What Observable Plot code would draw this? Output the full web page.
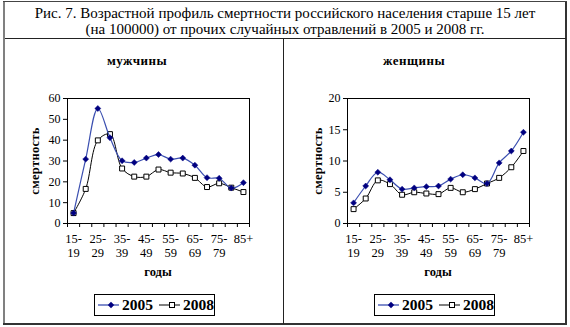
<!DOCTYPE html>
<html><head><meta charset="utf-8">
<script src="https://cdn.jsdelivr.net/npm/d3@7"></script>
<script src="https://cdn.jsdelivr.net/npm/@observablehq/plot@0.6"></script>
<style>
body{margin:0;background:#fff;}
#root{position:relative;width:570px;height:327px;font-family:"Liberation Serif","Times New Roman",serif;color:#000;overflow:hidden;background:#fff}
.abs{position:absolute;white-space:nowrap}
.ttl{left:0;width:570px;text-align:center;font-size:15px;line-height:16px}
.ptitle{font-weight:bold;font-size:13px;transform:translateX(-50%);letter-spacing:0.5px}
.ylab{font-weight:bold;font-size:12.5px;transform:translate(-50%,-50%) rotate(-90deg);letter-spacing:0.3px}
.xlab{font-weight:bold;font-size:12.5px;transform:translateX(-50%)}
.legend{border:1.5px solid #000;height:22px;box-sizing:border-box;display:flex;align-items:center;font-weight:bold;font-size:15.5px;padding-left:3px}
svg text{font-family:"Liberation Serif","Times New Roman",serif}
</style></head><body><div id="root"></div>
<script>
const ages = ["15-19","20-24","25-29","30-34","35-39","40-44","45-49","50-54","55-59","60-64","65-69","70-74","75-79","80-84","85+"];
const years = ["2005","2008"];
const panelTitles = ["мужчины","женщины"];
const yLabel = "смертность";
const xLabel = "годы";
const titleLines = ["Рис. 7. Возрастной профиль смертности российского населения старше 15 лет","(на 100000) от прочих случайных отравлений в 2005 и 2008 гг."];
const men2005 = [5.0,30.9,55.2,41.2,30.1,29.3,31.4,33.1,30.9,31.4,28.0,22.0,21.7,17.0,19.6];
const men2008 = [5.0,16.6,39.9,42.9,26.4,22.5,22.5,25.9,24.4,24.0,21.9,17.5,19.3,17.2,15.1];
const women2005 = [3.3,6.0,8.2,7.0,5.5,5.7,5.9,6.0,7.1,7.8,7.3,6.4,9.7,11.6,14.6];
const women2008 = [2.3,4.0,6.9,6.3,4.6,5.0,4.8,4.7,5.7,5.0,5.5,6.4,7.3,9.0,11.6];
const menTicks = [0,10,20,30,40,50,60];
const womenTicks = [0,5,10,15,20];

const C05 = "#000080", L05 = "#3b4fb0";
const FONT = "'Liberation Serif', 'Times New Roman', serif";
const root = document.getElementById("root");
function add(html, cls, style){const d=document.createElement("div");d.className="abs "+cls;d.style.cssText=style;d.innerHTML=html;root.appendChild(d);return d;}

// frame lines
add("","", "left:3px;top:2px;width:2px;height:322px;background:#808080");
add("","", "left:3px;top:1px;width:564px;height:1px;background:#444");
add("","", "left:565px;top:2px;width:1.5px;height:322px;background:#333");
add("","", "left:3px;top:323px;width:564px;height:1.5px;background:#333");
add("","", "left:5px;top:38px;width:561px;height:1px;background:#222");
add("","", "left:283px;top:38px;width:1px;height:286px;background:#222");

add(titleLines[0],"ttl","top:5px");
add(titleLines[1],"ttl","top:21px");

function panel(v05, v08, ticks){
  const r05 = ages.map((a,i)=>({i, v:v05[i]}));
  const r08 = ages.map((a,i)=>({i, v:v08[i]}));
  const bounds = d3.range(ages.length+1).map(k=>k-0.5);
  const labs = ages.map((a,i)=>({i, t:a.replace("-","-\n")})).filter(d=>d.i%2===0);
  const svg = Plot.plot({
    width:278, height:240, marginLeft:62, marginRight:34, marginTop:58, marginBottom:57,
    style:`font-family:${FONT};font-size:12px;background:transparent;color:#000;overflow:visible`,
    x:{type:"linear", domain:[-0.5, ages.length-0.5]},
    y:{domain:[ticks[0], ticks[ticks.length-1]]},
    marks:[
      Plot.frame({stroke:"#000", strokeWidth:1}),
      Plot.axisY(ticks, {tickSize:4, tickPadding:3, label:null, fontSize:12, stroke:"#000"}),
      Plot.axisX(bounds, {tickSize:4, tickFormat:()=>"", label:null, stroke:"#000"}),
      Plot.text(labs, {x:"i", text:"t", frameAnchor:"bottom", lineAnchor:"top", dy:9, fontSize:12.5, lineHeight:1.15}),
      Plot.line(r08, {x:"i", y:"v", stroke:"#000", strokeWidth:1, curve:"catmull-rom"}),
      Plot.dot(r08, {x:"i", y:"v", symbol:"square", fill:"#fff", stroke:"#000", strokeWidth:1, r:2.8}),
      Plot.line(r05, {x:"i", y:"v", stroke:L05, strokeWidth:1.2, curve:"catmull-rom"}),
      Plot.dot(r05, {x:"i", y:"v", symbol:"diamond2", fill:C05, stroke:C05, strokeWidth:0.5, r:2.7})
    ]
  });
  svg.setAttribute("font-family", FONT);
  return svg;
}

const panels = [
  {left:5, v05:men2005, v08:men2008, ticks:menTicks, tx:137, ylx:35, xlx:158, lgx:94},
  {left:285, v05:women2005, v08:women2008, ticks:womenTicks, tx:414, ylx:318, xlx:438, lgx:374}
];
panels.forEach((p,k)=>{
  const svg = panel(p.v05, p.v08, p.ticks);
  const w = document.createElement("div");
  w.className="abs"; w.style.cssText=`left:${p.left}px;top:40px`;
  w.appendChild(svg); root.appendChild(w);
  add(panelTitles[k],"ptitle",`left:${p.tx}px;top:53px`);
  add(yLabel,"ylab",`left:${p.ylx}px;top:161px`);
  add(xLabel,"xlab",`left:${p.xlx}px;top:265px`);
  const sw05 = `<svg width="26" height="10" style="margin-right:3px"><line x1="0" y1="5" x2="26" y2="5" stroke="${L05}" stroke-width="1.3"/><path d="M13,1.8L16.2,5L13,8.2L9.8,5Z" fill="${C05}"/></svg>`;
  const sw08 = `<svg width="26" height="10" style="margin-left:6px;margin-right:3px"><line x1="0" y1="5" x2="26" y2="5" stroke="#000" stroke-width="1"/><rect x="10.5" y="2.5" width="5" height="5" fill="#fff" stroke="#000"/></svg>`;
  add(sw05+"<span>"+years[0]+"</span>"+sw08+"<span>"+years[1]+"</span>","legend",`left:${p.lgx}px;top:294px;width:121px`);
});
</script></body></html>
